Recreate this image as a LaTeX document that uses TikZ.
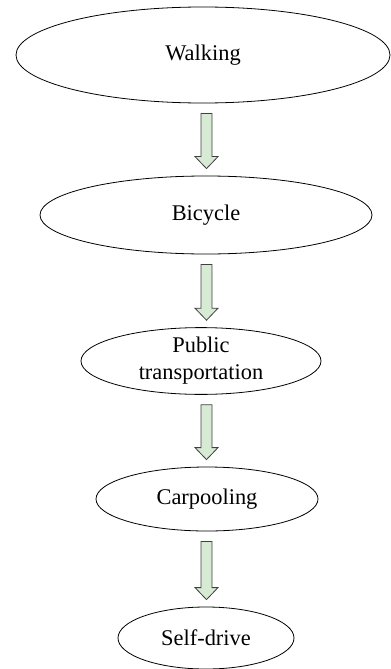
\documentclass[tikz,border=0pt]{standalone}
\usepackage{fontspec}
\setmainfont{Liberation Serif}
\usetikzlibrary{shapes.geometric,calc}
\definecolor{arrowgreen}{RGB}{214,234,212}

\newcommand{\modearrow}[2]{%
	\path let \p1=(#1.south -| axis), \p2=(#2.north -| axis) in
		[arrowbox] (\x1-5.5bp,\y1-10bp) -- (\x1+5.5bp,\y1-10bp) -- (\x1+5.5bp,\y2+19bp)
		-- (\x1+11.5bp,\y2+19bp) -- (\x1,\y2+7bp) -- (\x1-11.5bp,\y2+19bp)
		-- (\x1-5.5bp,\y2+19bp) -- cycle;}

\begin{document}
\begin{tikzpicture}[x=1bp, y=-1bp]
			\tikzstyle{mode}     = [ellipse, draw=black, line width=0.8pt, inner sep=0pt, align=center, font=\fontsize{22.5}{27}\selectfont]
			\tikzstyle{arrowbox} = [draw=black!75, line width=0.8pt, fill=arrowgreen, line join=miter]

			\useasboundingbox (0,0) rectangle (390,669);
			\coordinate (axis) at (206.5,0);

			\foreach \name/\x/\y/\w/\h/\text in {walk/203/55/374/96/Walking, bike/206/215/332/78/Bicycle, pub/201/361/240/65/{Public\\transportation}, car/207/499/222/64/Carpooling, self/206/638/176/62/Self-drive}
				\node[mode, minimum width=\w bp, minimum height=\h bp] (\name) at (\x, \y) {\text};

			\foreach \from/\to in {walk/bike, bike/pub, pub/car, car/self}
				\modearrow{\from}{\to};

		\end{tikzpicture}
\end{document}
